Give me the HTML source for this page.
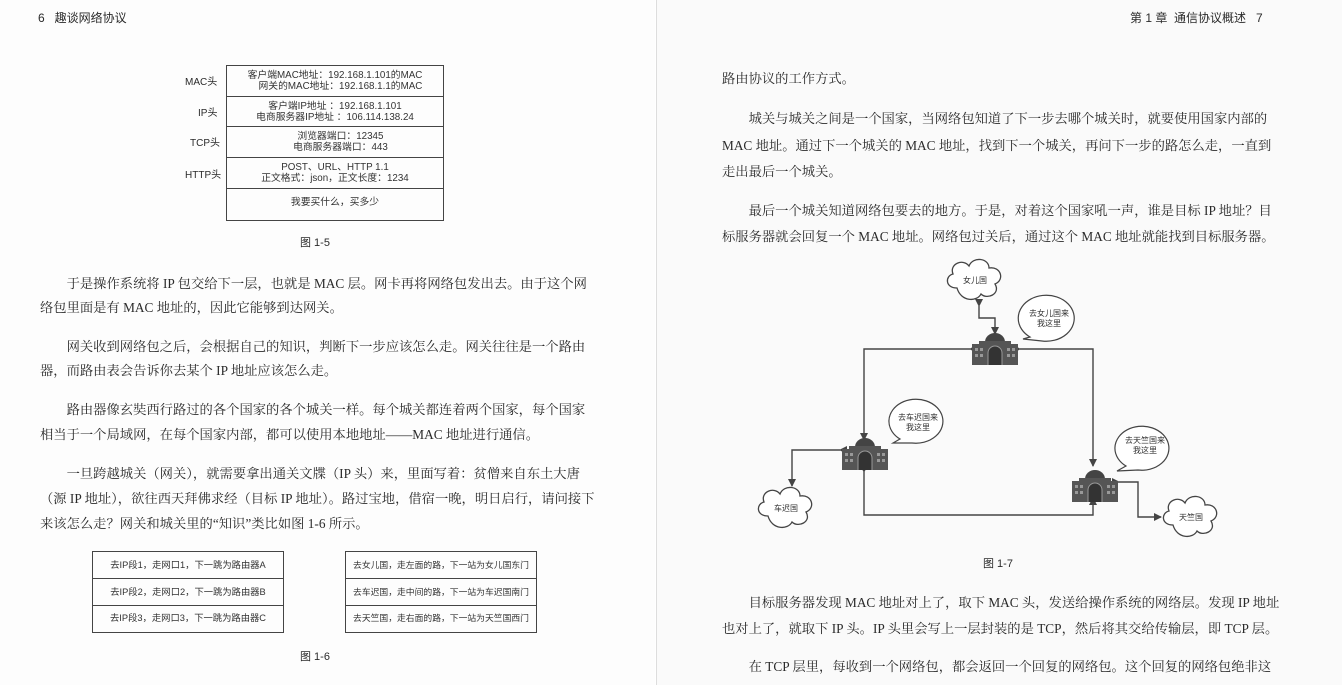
<!DOCTYPE html>
<html><head><meta charset="utf-8"><style>
body{margin:0;width:1342px;height:685px;overflow:hidden;background:#fff;position:relative;font-family:"Liberation Serif","Noto Serif CJK SC",serif;color:#2a2a2a}
.lp{position:absolute;left:0;top:0;width:655px;height:685px;background:#fdfdfd}
.rp{position:absolute;left:656px;top:0;width:686px;height:685px;background:#fafafa;border-left:1px solid #ddd}
.t{position:absolute;font-size:13.3px;white-space:nowrap;letter-spacing:0}
.s{font-family:"Liberation Sans","Noto Sans CJK SC",sans-serif}
.tb{position:absolute;border:1.5px solid #444;box-sizing:border-box}
.tb div{border-bottom:1.5px solid #444;box-sizing:border-box;text-align:center;font-family:"Liberation Sans","Noto Sans CJK SC",sans-serif;font-size:9.3px;color:#333;white-space:nowrap}
.tb div:last-child{border-bottom:none}
.r div{font-size:8.8px}
</style></head><body>
<div class="lp"></div><div class="rp"></div>
<div class="t s" style="left:38px;top:9px;font-size:12px">6&nbsp;&nbsp;&nbsp;趣谈网络协议</div>
<div class="t s" style="left:1130px;top:9px;font-size:12px">第 1 章&nbsp;&nbsp;通信协议概述&nbsp;&nbsp;&nbsp;7</div>

<div class="t s" style="left:185px;top:73px;font-size:10px">MAC头</div>
<div class="t s" style="left:198px;top:104px;font-size:10px">IP头</div>
<div class="t s" style="left:190px;top:134px;font-size:10px">TCP头</div>
<div class="t s" style="left:185px;top:166px;font-size:10px">HTTP头</div>
<div class="tb" style="left:226px;top:65px;width:218px;height:156px">
<div style="height:31px;line-height:11px;padding-top:4px;font-size:9.8px">客户端MAC地址：192.168.1.101的MAC<br>&nbsp;&nbsp;&nbsp;&nbsp;网关的MAC地址：192.168.1.1的MAC</div>
<div style="height:30px;line-height:11px;padding-top:4px;font-size:9.8px">客户端IP地址 ：192.168.1.101<br>电商服务器IP地址 ：106.114.138.24</div>
<div style="height:31px;line-height:11px;padding-top:4px;font-size:9.8px">&nbsp;&nbsp;&nbsp;&nbsp;浏览器端口：12345<br>&nbsp;&nbsp;&nbsp;&nbsp;电商服务器端口：443</div>
<div style="height:31px;line-height:11px;padding-top:4px;font-size:9.8px">POST、URL、HTTP 1.1<br>正文格式：json，正文长度：1234</div>
<div style="height:30px;line-height:28px;font-size:9.8px">我要买什么，买多少</div>
</div>
<div class="t s" style="left:300px;top:234px;font-size:11px">图 1-5</div>

<div class="t" style="left:40px;top:273px">　　于是操作系统将 IP 包交给下一层，也就是 MAC 层。网卡再将网络包发出去。由于这个网</div>
<div class="t" style="left:40px;top:297px">络包里面是有 MAC 地址的，因此它能够到达网关。</div>
<div class="t" style="left:40px;top:336px">　　网关收到网络包之后，会根据自己的知识，判断下一步应该怎么走。网关往往是一个路由</div>
<div class="t" style="left:40px;top:360px">器，而路由表会告诉你去某个 IP 地址应该怎么走。</div>
<div class="t" style="left:40px;top:399px">　　路由器像玄奘西行路过的各个国家的各个城关一样。每个城关都连着两个国家，每个国家</div>
<div class="t" style="left:40px;top:424px">相当于一个局域网，在每个国家内部，都可以使用本地地址——MAC 地址进行通信。</div>
<div class="t" style="left:40px;top:463px">　　一旦跨越城关（网关），就需要拿出通关文牒（IP 头）来，里面写着：贫僧来自东土大唐</div>
<div class="t" style="left:40px;top:488px">（源 IP 地址），欲往西天拜佛求经（目标 IP 地址）。路过宝地，借宿一晚，明日启行，请问接下</div>
<div class="t" style="left:40px;top:513px">来该怎么走？网关和城关里的“知识”类比如图 1-6 所示。</div>

<div class="tb" style="left:92px;top:551px;width:192px;height:82px">
<div style="height:27px;line-height:26px">去IP段1，走网口1，下一跳为路由器A</div>
<div style="height:27px;line-height:26px">去IP段2，走网口2，下一跳为路由器B</div>
<div style="height:25px;line-height:25px">去IP段3，走网口3，下一跳为路由器C</div>
</div>
<div class="tb r" style="left:345px;top:551px;width:192px;height:82px">
<div style="height:27px;line-height:26px">去女儿国，走左面的路，下一站为女儿国东门</div>
<div style="height:27px;line-height:26px">去车迟国，走中间的路，下一站为车迟国南门</div>
<div style="height:25px;line-height:25px">去天竺国，走右面的路，下一站为天竺国西门</div>
</div>
<div class="t s" style="left:300px;top:648px;font-size:11px">图 1-6</div>

<div class="t" style="left:722px;top:68px">路由协议的工作方式。</div>
<div class="t" style="left:722px;top:108px">　　城关与城关之间是一个国家，当网络包知道了下一步去哪个城关时，就要使用国家内部的</div>
<div class="t" style="left:722px;top:135px">MAC 地址。通过下一个城关的 MAC 地址，找到下一个城关，再问下一步的路怎么走，一直到</div>
<div class="t" style="left:722px;top:161px">走出最后一个城关。</div>
<div class="t" style="left:722px;top:200px">　　最后一个城关知道网络包要去的地方。于是，对着这个国家吼一声，谁是目标 IP 地址？目</div>
<div class="t" style="left:722px;top:226px">标服务器就会回复一个 MAC 地址。网络包过关后，通过这个 MAC 地址就能找到目标服务器。</div>

<svg style="position:absolute;left:0;top:0" width="1342" height="685">
<defs>
<marker id="a" markerWidth="8" markerHeight="8" refX="7" refY="4" orient="auto" markerUnits="userSpaceOnUse"><path d="M0,0 L8,4 L0,8z" fill="#444"/></marker>
<g id="b"><path d="M-10,-8 A10,9 0 0 1 10,-8 z" fill="#444"/><rect x="-16" y="-9" width="32" height="3" fill="#555"/><rect x="-23" y="-6" width="46" height="21" fill="#555"/><path d="M-7,15 V3 A7,7 0 0 1 7,3 V15" fill="#333" stroke="#999" stroke-width="1"/><g fill="#999"><rect x="-20" y="-2" width="3" height="3"/><rect x="-15" y="-2" width="3" height="3"/><rect x="-20" y="4" width="3" height="3"/><rect x="-15" y="4" width="3" height="3"/><rect x="12" y="-2" width="3" height="3"/><rect x="17" y="-2" width="3" height="3"/><rect x="12" y="4" width="3" height="3"/><rect x="17" y="4" width="3" height="3"/></g></g>
<g id="c"><path d="M-18,8 C-30,8 -30,-4 -22,-6 C-26,-16 -12,-22 -6,-14 C-2,-24 14,-22 14,-12 C26,-14 30,0 20,4 C26,14 12,20 6,14 C2,22 -14,22 -18,8z" fill="#fff" stroke="#444" stroke-width="1.3"/></g>
</defs>
<g fill="none" stroke="#444" stroke-width="1.4">
<polyline points="970,349 864,349 864,440" marker-start="url(#a)" marker-end="url(#a)"/>
<polyline points="1020,349 1093,349 1093,466" marker-start="url(#a)" marker-end="url(#a)"/>
<polyline points="864,472 864,515 1093,515 1093,498" marker-start="url(#a)" marker-end="url(#a)"/>
<polyline points="979,306 979,318 995,318 995,334" marker-start="url(#a)" marker-end="url(#a)"/>
<polyline points="840,450 792,450 792,486" marker-start="url(#a)" marker-end="url(#a)"/>
<polyline points="1119,482 1138,482 1138,517 1161,517" marker-start="url(#a)" marker-end="url(#a)"/>
</g>
<use href="#b" x="995" y="350"/><use href="#b" x="865" y="455"/><use href="#b" x="1095" y="487"/>
<use href="#c" x="975" y="280"/><use href="#c" x="786" y="508"/><use href="#c" x="1191" y="517"/>
<g fill="#fff" stroke="#444" stroke-width="1.2">
<path d="M1030,337 A28,23 0 1 1 1042,341 L1023,339z"/>
<path d="M900,439 A27,22 0 1 1 912,443 L893,443z"/>
<path d="M1126,466 A27,22 0 1 1 1138,470 L1117,471z"/>
</g>
<g font-family="Liberation Sans,Noto Sans CJK SC,sans-serif" font-size="8" fill="#333" text-anchor="middle">
<text x="975" y="283">女儿国</text><text x="786" y="511">车迟国</text><text x="1191" y="520">天竺国</text>
<text x="1049" y="316">去女儿国来</text><text x="1049" y="326">我这里</text>
<text x="918" y="420">去车迟国来</text><text x="918" y="430">我这里</text>
<text x="1145" y="443">去天竺国来</text><text x="1145" y="453">我这里</text>
</g>
</svg>
<div class="t s" style="left:983px;top:555px;font-size:11px">图 1-7</div>
<div class="t" style="left:722px;top:592px">　　目标服务器发现 MAC 地址对上了，取下 MAC 头，发送给操作系统的网络层。发现 IP 地址</div>
<div class="t" style="left:722px;top:618px">也对上了，就取下 IP 头。IP 头里会写上一层封装的是 TCP，然后将其交给传输层，即 TCP 层。</div>
<div class="t" style="left:722px;top:656px">　　在 TCP 层里，每收到一个网络包，都会返回一个回复的网络包。这个回复的网络包绝非这</div>
</body></html>
